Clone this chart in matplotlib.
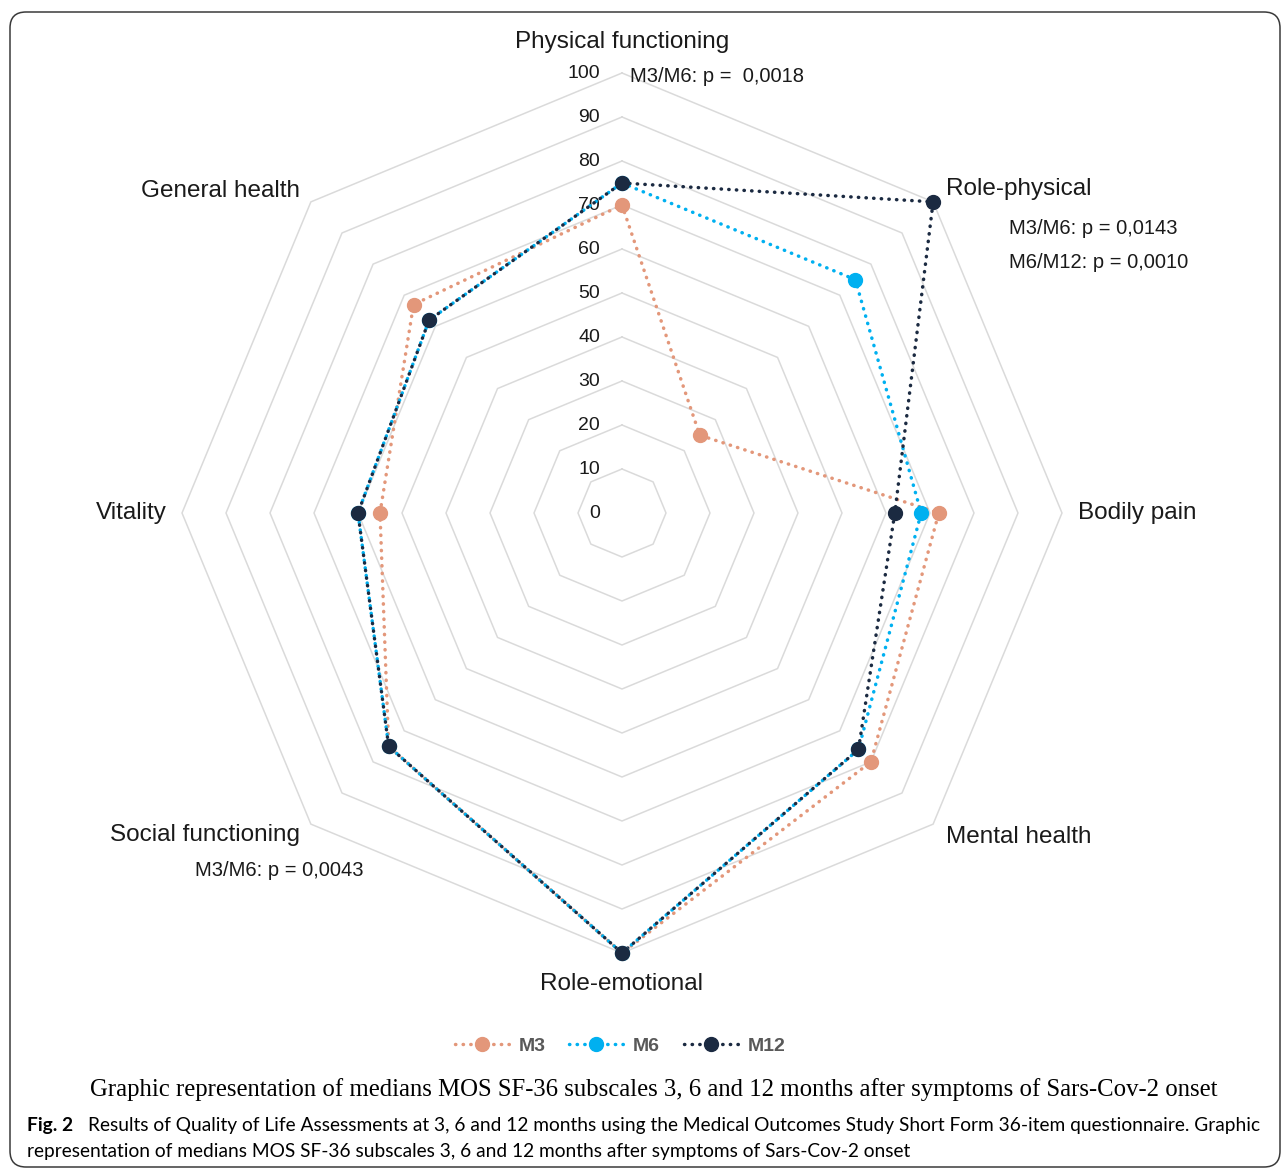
import matplotlib.pyplot as plt
import numpy as np
from matplotlib.lines import Line2D
from matplotlib.patches import FancyBboxPatch
from matplotlib.transforms import offset_copy

plt.rcParams['font.family'] = ['Liberation Sans', 'DejaVu Sans']

# SF-36 subscale medians at 3, 6 and 12 months
categories = ["Physical functioning", "Role-physical", "Bodily pain", "Mental health",
              "Role-emotional", "Social functioning", "Vitality", "General health"]
m3 = [70, 25, 72, 80, 100, 75, 55, 67]
m6 = [75, 75, 68, 76, 100, 75, 60, 62]
m12 = [75, 100, 62, 76, 100, 75, 60, 62]
series_names = ["M3", "M6", "M12"]
ring_levels = list(range(10, 101, 10))
tick_values = list(range(0, 101, 10))

W, H = 1287, 1170
fig = plt.figure(figsize=(W / 100, H / 100), dpi=100)

# rounded frame around the whole figure
frame = FancyBboxPatch((0.10, 0.03), 12.70, 11.55,
                       boxstyle="round,pad=0,rounding_size=0.16",
                       transform=fig.dpi_scale_trans, fill=False,
                       edgecolor='#3a3a3a', linewidth=1.1)
fig.patches.append(frame)

ax = fig.add_axes([182 / W, (H - 953) / H, 880 / W, 880 / H], projection='polar')
ax.set_theta_offset(np.pi / 2)
ax.set_theta_direction(-1)
ax.set_ylim(0, 100)
ax.axis('off')

n = len(categories)
angles = np.linspace(0, 2 * np.pi, n, endpoint=False)
loop = np.append(angles, angles[0])

# octagonal grid
for level in ring_levels:
    ax.plot(loop, [level] * (n + 1), color='#dadada', lw=1.1, zorder=1,
            clip_on=False)

tick_tr = offset_copy(ax.transData, fig=fig, x=-22, y=0, units='dots')
for v in tick_values:
    ax.text(0, v, str(v), transform=tick_tr, ha='right', va='center',
            fontsize=14, color='#1a1a1a', zorder=2)

colors = ['#E3977A', '#00B0F0', '#1B2A41']
dotted = (0, (0.1, 2.1))
handles = []
for vals, name, c in zip([m3, m6, m12], series_names, colors):
    closed = vals + vals[:1]
    ax.plot(loop, closed, color=c, lw=2.5, linestyle=dotted,
            dash_capstyle='round', zorder=3, clip_on=False)
    ax.plot(angles, vals, 'o', color=c, markersize=10, zorder=4, clip_on=False)
    handles.append(Line2D([], [], color=c, lw=2.5, linestyle=dotted,
                          dash_capstyle='round', marker='o', markersize=10,
                          label=name))

# category labels: radius, horizontal and vertical alignment
label_pos = [(107, 'center', 'center'), (104, 'left', 'center'),
             (103.6, 'left', 'center'), (104, 'left', 'center'),
             (107, 'center', 'center'), (103.6, 'right', 'center'),
             (103.4, 'right', 'center'), (103.6, 'right', 'center')]
for ang, name, (r, ha, va) in zip(angles, categories, label_pos):
    ax.text(ang, r, name, ha=ha, va=va, fontsize=17.5, color='#1a1a1a',
            clip_on=False)

# significance notes
notes = [("M3/M6: p =  0,0018", 630, 77),
         ("M3/M6: p = 0,0143", 1009, 229),
         ("M6/M12: p = 0,0010", 1009, 262),
         ("M3/M6: p = 0,0043", 195, 870)]
for txt, x, y in notes:
    fig.text(x / W, 1 - y / H, txt, ha='left', va='center', fontsize=14.5,
             color='#1a1a1a')

leg = fig.legend(handles=handles, loc='center', bbox_to_anchor=(620 / W, 1 - 1046 / H),
                 ncol=3, frameon=False, handlelength=2.8, handletextpad=0.5,
                 columnspacing=1.2, prop={'weight': 'bold', 'size': 14})
for t in leg.get_texts():
    t.set_color('#595959')

# captions
renderer = fig.canvas.get_renderer()


def fit_width(t, width_px):
    w = t.get_window_extent(renderer).width
    t.set_fontsize(t.get_fontsize() * width_px / w)


sub = fig.text(90 / W, 1 - 1090 / H,
               "Graphic representation of medians MOS SF-36 subscales 3, 6 and 12 months "
               "after symptoms of Sars-Cov-2 onset",
               ha='left', va='center', fontsize=17, family='Liberation Serif')
fit_width(sub, 1127)

fig_lbl = fig.text(27 / W, 1 - 1126 / H, "Fig. 2", ha='left', va='center',
                   fontsize=13, family='Lato', weight='bold')
line1 = fig.text(88 / W, 1 - 1126 / H,
                 "Results of Quality of Life Assessments at 3, 6 and 12 months using the "
                 "Medical Outcomes Study Short Form 36-item questionnaire. Graphic",
                 ha='left', va='center', fontsize=13, family='Lato')
fit_width(line1, 1174)
size = line1.get_fontsize()
fig_lbl.set_fontsize(size)
fig.text(27 / W, 1 - 1152 / H,
         "representation of medians MOS SF-36 subscales 3, 6 and 12 months after "
         "symptoms of Sars-Cov-2 onset",
         ha='left', va='center', fontsize=size, family='Lato')

fig.savefig('out.png', dpi=100)
